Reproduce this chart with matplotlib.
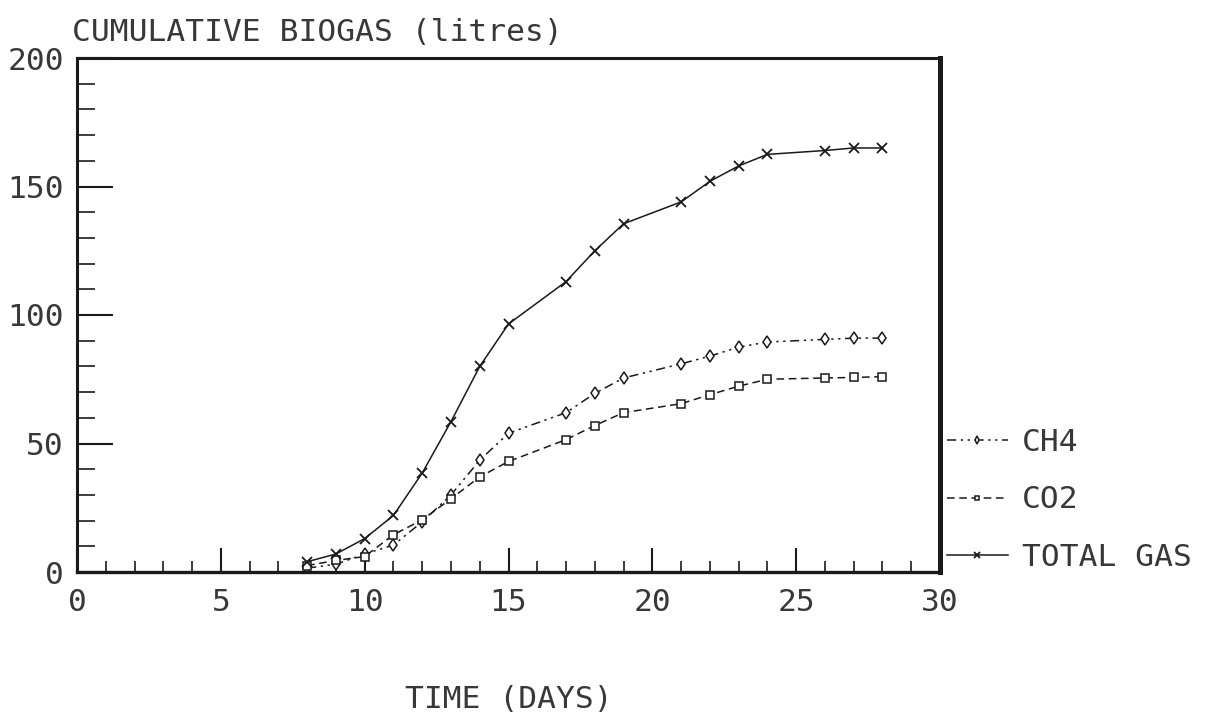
import matplotlib
matplotlib.use("Agg")
import matplotlib.pyplot as plt
from matplotlib.ticker import MultipleLocator

# Cumulative gas volumes (litres) by day of digestion
days = [8, 9, 10, 11, 12, 13, 14, 15, 17, 18, 19, 21, 22, 23, 24, 26, 27, 28]
ch4 = [1.5, 3, 7, 10.5, 19.5, 30, 43.5, 54, 62, 69.5, 75.5, 81, 84, 87.5, 89.5, 90.5, 91, 91]
co2 = [2.5, 4.5, 6, 14.5, 20.3, 28.5, 37, 43, 51.5, 57, 62, 65.5, 69, 72.3, 75, 75.5, 75.7, 76]
total = [4, 7, 13, 22, 38.5, 58.5, 80, 96.5, 113, 125, 135.5, 144, 152, 158, 162.5, 164, 165, 165]

series_labels = ["CH4", "CO2", "TOTAL GAS"]
title_text = "CUMULATIVE BIOGAS (litres)"
xlabel_text = "TIME (DAYS)"

FONT = "DejaVu Sans Mono"
FS = 22.5
INK = "#1a1a1a"
TXT = "#383838"

plt.rcParams["font.family"] = [FONT, "DejaVu Sans"]

fig = plt.figure(figsize=(12.14, 7.17), dpi=100)
ax = fig.add_axes([77 / 1214, 1 - 572 / 717, (940 - 77) / 1214, (572 - 58) / 717])

l_ch4, = ax.plot(days, ch4, color=INK, lw=1.1, linestyle=(0, (6, 3, 1.5, 3, 1.5, 3)),
                 marker="d", markersize=6.5, markerfacecolor="white", markeredgecolor=INK,
                 markeredgewidth=1.1)
l_co2, = ax.plot(days, co2, color=INK, lw=1.1, linestyle=(0, (5, 3)),
                 marker="s", markersize=6, markerfacecolor="white", markeredgecolor=INK,
                 markeredgewidth=1.1)
l_tot, = ax.plot(days, total, color=INK, lw=1.1, linestyle="-",
                 marker="x", markersize=7.5, markeredgecolor=INK, markeredgewidth=1.3)

ax.set_xlim(0, 30)
ax.set_ylim(0, 200)

ax.xaxis.set_major_locator(MultipleLocator(5))
ax.xaxis.set_minor_locator(MultipleLocator(1))
ax.yaxis.set_major_locator(MultipleLocator(50))
ax.yaxis.set_minor_locator(MultipleLocator(10))

ax.tick_params(axis="x", which="major", direction="in", length=17, width=1.5,
               color=INK, bottom=True, top=False, pad=11.5, labelsize=FS, labelcolor=TXT)
ax.tick_params(axis="x", which="minor", direction="in", length=8, width=1.2,
               color=INK, bottom=True, top=False)
ax.tick_params(axis="y", which="major", direction="in", length=26, width=1.5,
               color=INK, left=True, right=False, pad=9.5, labelsize=FS, labelcolor=TXT)
ax.tick_params(axis="y", which="minor", direction="in", length=13, width=1.2,
               color=INK, left=True, right=False)

for side, w in (("left", 2.2), ("bottom", 2.4), ("top", 2.2), ("right", 3.6)):
    ax.spines[side].set_linewidth(w)
    ax.spines[side].set_color(INK)

ax.set_xlabel(xlabel_text, fontsize=FS, color=TXT, labelpad=49)

fig.text(72 / 1214, 1 - 41 / 717, title_text, fontsize=FS, color=TXT,
         ha="left", va="baseline")

leg = fig.legend([l_ch4, l_co2, l_tot], series_labels, loc="center left",
                 bbox_to_anchor=(947 / 1214, 1 - 500 / 717), frameon=False,
                 fontsize=FS, handlelength=1.95, handletextpad=0.45,
                 borderpad=0, borderaxespad=0, labelspacing=0.91, markerscale=0.6)
for t in leg.get_texts():
    t.set_color(TXT)

fig.savefig("out.png", dpi=100, facecolor="white")
